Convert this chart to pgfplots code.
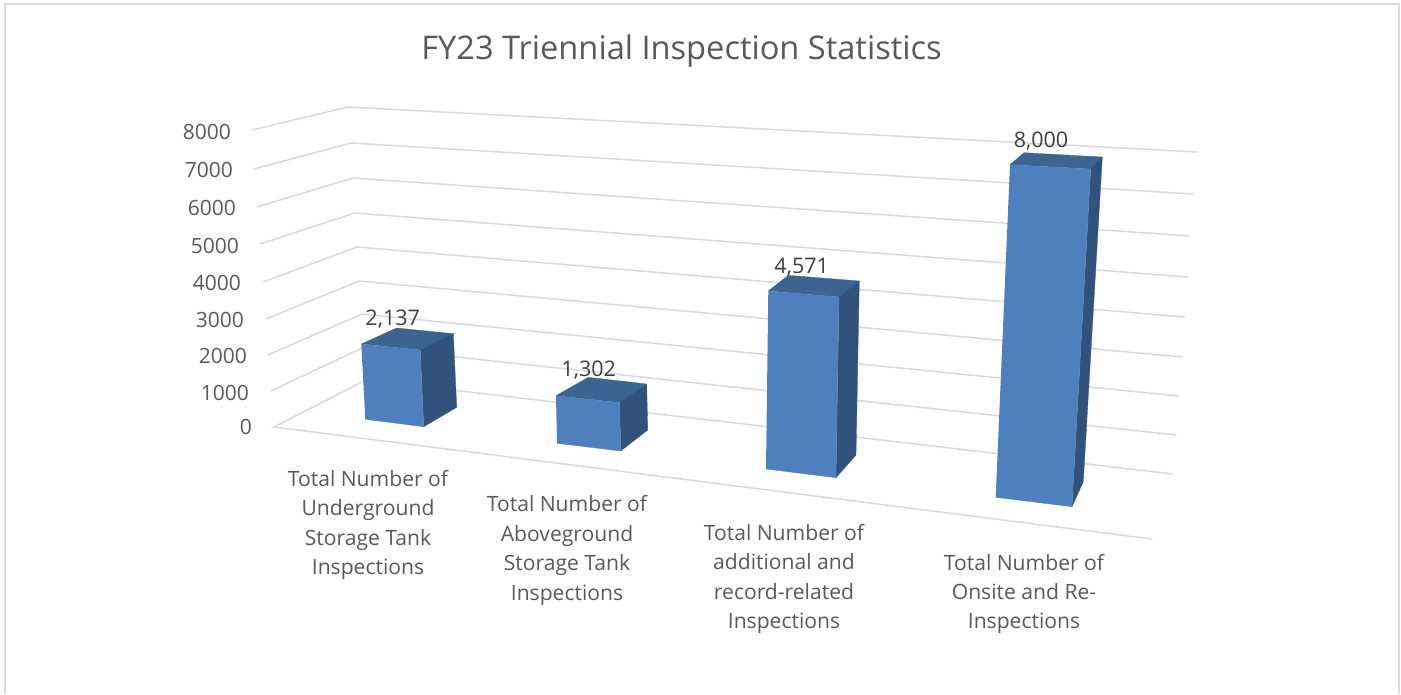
\documentclass[border=0pt]{standalone}
\usepackage{pgfplots}
\pgfplotsset{compat=1.18}
\usepackage{pgfplotstable}
\usepackage{fontspec}
\setmainfont{Open Sans}
\definecolor{gridc}{HTML}{D9D9D9}
\definecolor{framec}{HTML}{DADADA}
\definecolor{front}{HTML}{4E80BD}
\definecolor{topf}{HTML}{3C6491}
\definecolor{sidef}{HTML}{31527B}
\definecolor{tickc}{HTML}{595959}
\definecolor{valc}{HTML}{404040}

% tick labels: picture position and value
\pgfplotstableread{
px py v
231 132 8000
233 170 7000
236 208 6000
239 246 5000
241 283 4000
244 320 3000
247 356 2000
249 393 1000
252 427 0
}\ticktable
% bar values, placed above each bar
\pgfplotstableread{
px py v
392.7 318 2137
588.7 369 1302
801.7 265.7 4571
1041 140 8000
}\valtable

\pgfplotsset{
  wall/.style={draw=gridc,line width=1.5pt,mark=none},
  ffront/.style={fill=front,draw=front,line width=.3pt,mark=none},
  ftop/.style={fill=topf,draw=topf,line width=.3pt,mark=none},
  fside/.style={fill=sidef,draw=sidef,line width=.3pt,mark=none},
}

\begin{document}
\begin{tikzpicture}
\begin{axis}[hide axis,scale only axis,width=1401pt,height=694pt,
  xmin=0,xmax=1401,ymin=0,ymax=694,y dir=reverse,
  axis background/.style={fill=white},
  /pgf/number format/assume math mode=true]

% outer frame
\addplot[draw=framec,line width=2pt,mark=none] coordinates {(5,694) (5,4) (1399,4) (1399,694)};

% walls and floor
\addplot[wall] coordinates {(252,130) (348,107) (1197,152)};
\addplot[wall] coordinates {(254,169) (351,143) (1193,194)};
\addplot[wall] coordinates {(257,207) (353,178) (1190,236)};
\addplot[wall] coordinates {(260,244) (355,213) (1188,277)};
\addplot[wall] coordinates {(263,282) (357,247) (1185,317)};
\addplot[wall] coordinates {(266,319) (359,281) (1182,357)};
\addplot[wall] coordinates {(268,355) (362,314) (1179,396)};
\addplot[wall] coordinates {(271,391) (364,347) (1176,435)};
\addplot[wall] coordinates {(1152,539) (274,427) (366,380) (1173,474)};

% bar 1
\addplot[ftop] coordinates {(361.3,344) (396.7,328) (453.3,333.7) (420.3,350)};
\addplot[fside] coordinates {(420.3,350) (453.3,333.7) (456.7,407.3) (423.7,426.7)};
\addplot[ffront] coordinates {(361.3,344) (420.3,350) (423.7,426.7) (365.3,419.3)};
% bar 2
\addplot[ftop] coordinates {(556,395.7) (588.3,377.3) (646.7,384) (619.7,402.7)};
\addplot[fside] coordinates {(619.7,402.7) (646.7,384) (647.7,430) (620.7,451)};
\addplot[ffront] coordinates {(556,395.7) (619.7,402.7) (620.7,451) (557,443.3)};
% bar 3
\addplot[ftop] coordinates {(768.3,291) (788.3,275.3) (859.3,281) (839,297)};
\addplot[fside] coordinates {(839,297) (859.3,281) (856,455) (836,477.7)};
\addplot[ffront] coordinates {(768.3,291) (839,297) (836,477.7) (766,469)};
% bar 4
\addplot[ftop] coordinates {(1010,164.7) (1024,152.7) (1102.3,157) (1090.7,169)};
\addplot[fside] coordinates {(1090.7,169) (1102.3,157) (1083.3,481.7) (1072,506.7)};
\addplot[ffront] coordinates {(1010,164.7) (1090.7,169) (1072,506.7) (995.7,497.3)};

% axis numbers
\addplot[draw=none,mark=none,point meta=explicit,nodes near coords,
  /pgf/number format/1000 sep={},
  nodes near coords style={anchor=east,inner sep=0pt,text=tickc,
    font=\fontsize{21}{24}\selectfont,text height=15pt,text depth=0pt}]
  table[x=px,y=py,meta=v] {\ticktable};
% value labels
\addplot[draw=none,mark=none,point meta=explicit,nodes near coords,
  /pgf/number format/1000 sep={,},
  nodes near coords style={anchor=center,inner sep=0pt,text=valc,
    font=\fontsize{21.5}{24}\selectfont,text height=15.4pt,text depth=0pt}]
  table[x=px,y=py,meta=v] {\valtable};

% title and categories
\node[text=tickc,inner sep=0pt,font=\fontsize{32.6}{38}\selectfont] at (axis cs:681.5,51) {FY23 Triennial Inspection Statistics};
\node[text=tickc,inner sep=0pt,align=center,font=\fontsize{21.1}{29.4}\selectfont] at (axis cs:368,525)
  {Total Number of\\Underground\\Storage Tank\\Inspections};
\node[text=tickc,inner sep=0pt,align=center,font=\fontsize{21.1}{29.4}\selectfont] at (axis cs:567,550.5)
  {Total Number of\\Aboveground\\Storage Tank\\Inspections};
\node[text=tickc,inner sep=0pt,align=center,font=\fontsize{21.1}{29.4}\selectfont] at (axis cs:784,579)
  {Total Number of\\additional and\\record-related\\Inspections};
\node[text=tickc,inner sep=0pt,align=center,font=\fontsize{21.1}{29.4}\selectfont] at (axis cs:1024,594)
  {Total Number of\\Onsite and Re-\\Inspections};
\end{axis}
\end{tikzpicture}
\end{document}
